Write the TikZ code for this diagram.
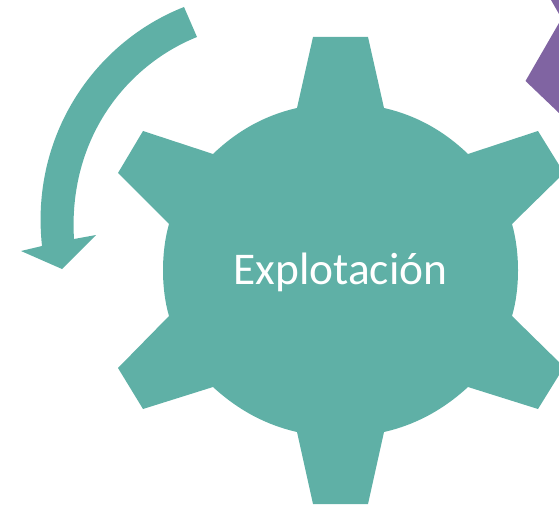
\documentclass[tikz,border=0pt]{standalone}
\usepackage{fontspec}
\setmainfont{Carlito}
\definecolor{teal1}{HTML}{5FB0A6}
\definecolor{purp}{HTML}{8064A2}
\begin{document}
\begin{tikzpicture}[x=1pt,y=-1pt,gearfill/.style={fill=teal1,draw=none}]
\useasboundingbox (0,0) rectangle (559,505);
\clip (0,0) rectangle (559,505);
\fill[purp] (551,0) -- (559,0) -- (559,14) -- cycle;
\fill[purp] (559,23) -- (525.5,81) -- (559,113) -- cycle;
\fill[gearfill] (313,37) -- (368,37) -- (384,108)
 .. controls (415,115) and (443,130) .. (468,154)
 -- (538,131) -- (564,173) -- (512,224)
 .. controls (520,252) and (520,289) .. (512,316)
 -- (564,367) -- (538,409) -- (468,387)
 .. controls (443,410) and (415,425) .. (384,432)
 -- (368,504) -- (313,504) -- (297,432)
 .. controls (266,425) and (238,410) .. (213,387)
 -- (143,409) -- (118,368) -- (169,316)
 .. controls (161,289) and (161,252) .. (169,224)
 -- (118,173) -- (143,131) -- (213,154)
 .. controls (238,130) and (266,115) .. (297,108) -- cycle;
\node[text=white,font=\fontsize{45.4}{54}\selectfont,inner sep=0pt] (lbl) at (340.5,272) {Explotación};
\fill[gearfill] (184,7) -- (197,37)
 .. controls (125,66) and (68,140) .. (74,239)
 -- (96,235) -- (62,269) -- (21,251) -- (42,246)
 .. controls (30,135) and (95,42) .. (184,7) -- cycle;
\end{tikzpicture}
\end{document}
